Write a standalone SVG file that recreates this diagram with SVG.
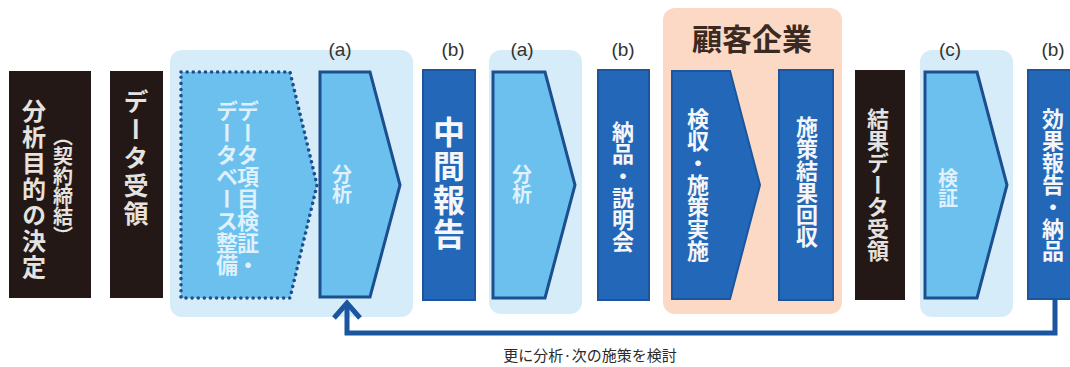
<svg xmlns="http://www.w3.org/2000/svg" width="1070" height="367" viewBox="0 0 1070 367">
<defs>
<style>
.bg{fill:#ffffff}
.pb{fill:#d7ecf9}
.ps{fill:#fbd9c4}
.blk{fill:#231815}
.dk{fill:#2368b8;stroke:#1b559e;stroke-width:2}
.lt{fill:#6cc0ee;stroke:#1b4f8f;stroke-width:3;stroke-linejoin:miter}
.dash{fill:#6cc0ee;stroke:#1b4f8f;stroke-width:3.5;stroke-dasharray:0.1 6;stroke-linecap:round}
.v{font-family:"Noto Sans CJK JP","Noto Sans",sans-serif;font-weight:bold;writing-mode:vertical-rl;text-anchor:middle}
.w{fill:#f4f6fa}
.g{fill:#e6e2df}
.p{fill:#def1fc}
.lab{font-family:"Liberation Sans","Noto Sans",sans-serif;font-size:19px;fill:#333333;text-anchor:middle}
.title{font-family:"Noto Sans CJK JP",sans-serif;font-weight:bold;font-size:30px;fill:#3a2a22;text-anchor:middle}
.cap{font-family:"Noto Sans CJK JP",sans-serif;font-size:15px;fill:#2a2a2a;text-anchor:middle}
.con{fill:none;stroke:#1a56a0;stroke-width:5;stroke-linejoin:miter}
</style>
</defs>
<rect class="bg" x="0" y="0" width="1070" height="367"/>

<g id="panel-a1"><rect class="pb" x="170" y="50" width="243" height="267" rx="12"/><text class="lab" x="340" y="56">(a)</text></g>
<g id="panel-a2"><rect class="pb" x="489" y="50" width="93" height="264" rx="12"/><text class="lab" x="522" y="56">(a)</text></g>
<g id="panel-client"><rect class="ps" x="663" y="8" width="179" height="306" rx="12"/><text class="title" x="752" y="50">顧客企業</text></g>
<g id="panel-c"><rect class="pb" x="920" y="50" width="93" height="267" rx="12"/><text class="lab" x="950" y="56">(c)</text></g>

<g id="n-purpose"><rect class="blk" x="9" y="71" width="82" height="227"/>
<text class="v g" x="34" y="190" font-size="24" letter-spacing="2">分析目的の決定</text>
<text class="v g" x="63" y="186" font-size="20">（契約締結）</text></g>

<g id="n-data"><rect class="blk" x="110" y="71" width="53" height="227"/>
<text class="v g" x="136" y="159" font-size="25" letter-spacing="3">データ受領</text></g>

<g id="n-dbprep"><polygon class="dash" points="181,72 290,72 317,185 290,298 181,298"/>
<text class="v p" x="248" y="188" font-size="22">データ項目検証・</text>
<text class="v p" x="227" y="188" font-size="22">データベース整備</text></g>

<g id="n-analysis1"><polygon class="lt" points="320,72 370,72 400,185 370,297 320,297"/>
<text class="v p" x="342" y="184" font-size="20">分析</text></g>

<g id="n-interim"><text class="lab" x="453" y="56">(b)</text><rect class="dk" x="423" y="70" width="52" height="230"/>
<text class="v w" x="449" y="184" font-size="32" letter-spacing="2">中間報告</text></g>

<g id="n-analysis2"><polygon class="lt" points="493,72 545,72 575,185 545,298 493,298"/>
<text class="v p" x="522" y="184" font-size="20">分析</text></g>

<g id="n-deliver"><text class="lab" x="623" y="56">(b)</text><rect class="dk" x="598" y="70" width="51" height="230"/>
<text class="v w" x="623" y="187" font-size="22">納品・説明会</text></g>

<g id="n-accept"><polygon class="dk" points="672,71 730,71 760,185 730,299 672,299"/>
<text class="v w" x="698" y="185" font-size="22">検収・施策実施</text></g>

<g id="n-collect"><rect class="dk" x="779" y="70" width="54" height="230"/>
<text class="v w" x="807" y="182" font-size="22">施策結果回収</text></g>

<g id="n-resultdata"><rect class="blk" x="855" y="70" width="50" height="230"/>
<text class="v g" x="878" y="185" font-size="22">結果データ受領</text></g>

<g id="n-verify"><polygon class="lt" points="925,72 977,72 1007,185 977,298 925,298"/>
<text class="v p" x="948" y="188" font-size="20">検証</text></g>

<g id="n-effect"><text class="lab" x="1053" y="56">(b)</text><rect class="dk" x="1028" y="70" width="50" height="229"/>
<text class="v w" x="1053" y="185" font-size="22">効果報告・納品</text></g>

<g id="connectors">
<polyline class="con" points="1055,299 1055,333 347,333 347,303"/>
<polyline class="con" points="334,318 347,303 360,318"/>
<text class="cap" x="590" y="361">更に分析·次の施策を検討</text>
</g>
</svg>
